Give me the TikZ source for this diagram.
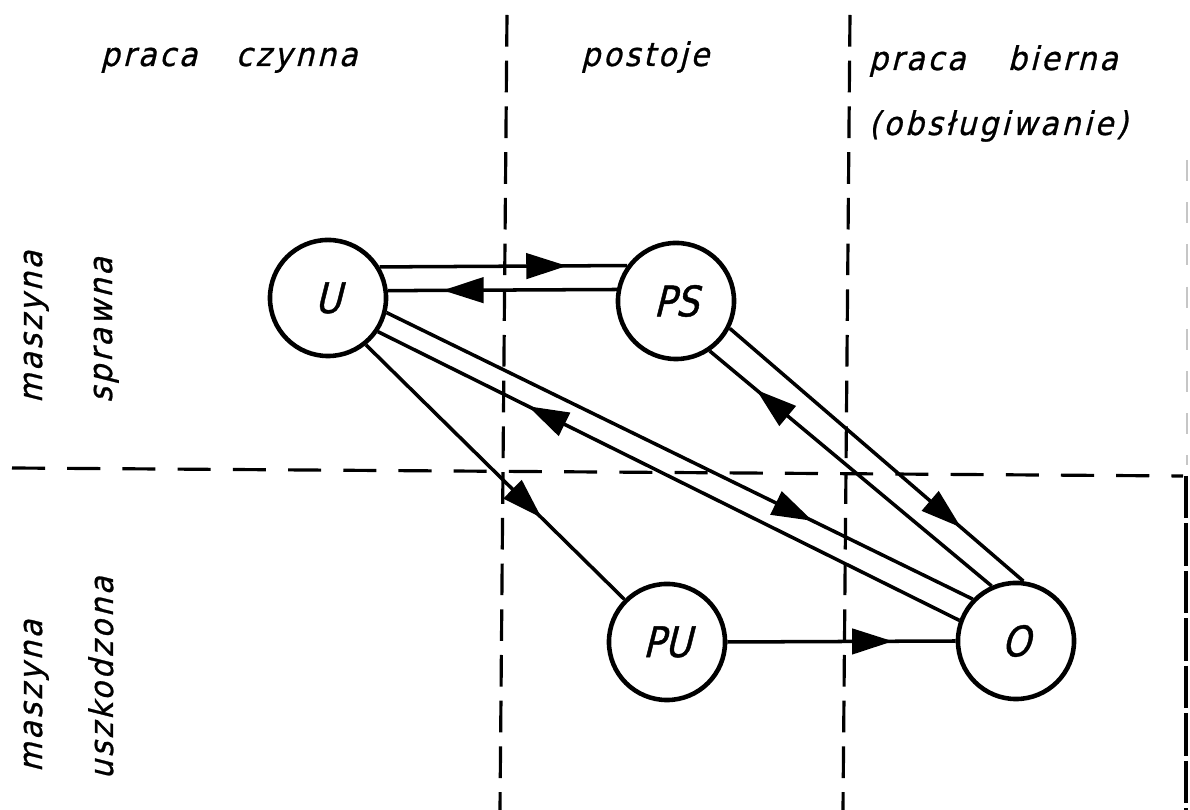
\documentclass[tikz,border=0pt]{standalone}
\usepackage{fontspec}
\setmainfont{DejaVu Sans}[FakeStretch=0.92,FakeSlant=0.25,LetterSpace=9,FakeBold=0.8]
\newfontfamily\stfam{DejaVu Sans}[FakeStretch=0.86,FakeSlant=0.25,FakeBold=1]
\usetikzlibrary{arrows.meta,decorations.markings}
\newcommand{\lblfnt}{\fontsize{9.3pt}{11pt}\selectfont}
\newcommand{\stfnt}{\stfam\fontsize{12pt}{14pt}\selectfont}
\tikzset{
  tri/.tip={Triangle[length=11.6pt,width=7.2pt]},
  st/.style={circle, draw, line width=1.3pt, minimum size=1.16cm, inner sep=0pt, font=\stfnt},
  con/.style={line width=1pt},
  marr/.style={postaction={decorate,decoration={markings,mark=at position #1 with {\arrow{tri}}}}},
  vgrid/.style={line width=0.9pt, dash pattern=on 9pt off 4pt},
  hgrid/.style={line width=0.9pt, dash pattern=on 9.4pt off 6.3pt},
  lab/.style={font=\lblfnt, inner sep=0pt}
}
\begin{document}
\begin{tikzpicture}[x=0.01cm,y=-0.01cm]
\fill[white] (0,0) rectangle (1190,810);
\useasboundingbox (0,0) rectangle (1190,810);
% dashed division lines
\draw[vgrid] (507,15) -- (500,810);
\draw[vgrid] (850,15) -- (843,810);
\draw[hgrid] (12,468) -- (1183,476);
\draw[line width=0.9pt, dash pattern=on 12pt off 1.5pt] (1186,476) -- (1186,810);
\draw[gray!45, line width=0.7pt, dash pattern=on 6pt off 6pt] (1187,160) -- (1187,465);
% states
\node[st] (U) at (328,298) {U};
\node[st] (PS) at (676,301) {PS};
\node[st] (PU) at (667,642) {PU};
\node[st] (O) at (1016,641) {O};
% transitions
\draw[con, marr=0.757] (U.31) -- (PS.144);
\draw[con, marr=0.76] (PS.169) -- (U.7);
\draw[con, marr=0.727] (U.-14) -- (O.136);
\draw[con, marr=0.742] (O.160) -- (U.-34);
\draw[con, marr=0.68] (U.-51) -- (PU.135);
\draw[con, marr=0.79] (PS.-27) -- (O.83);
\draw[con, marr=0.837] (O.114) -- (PS.-56);
\draw[con, marr=0.725] (PU.0) -- (O.180);
% labels
\node[lab, anchor=base east] (t1) at (358,66) {praca\hspace{11pt}czynna};
\node[lab, anchor=base] (t2) at (645,66) {postoje};
\node[lab, anchor=base west] (t3) at (868,70) {praca\hspace{12pt}bierna};
\node[lab, anchor=base west] (t4) at (868,135) {(obsługiwanie)};
\node[lab, rotate=90, anchor=base] (l1) at (42,327) {maszyna};
\node[lab, rotate=90, anchor=base] (l2) at (112,330) {sprawna};
\node[lab, rotate=90, anchor=base] (l3) at (42,696) {maszyna};
\node[lab, rotate=90, anchor=base] (l4) at (113,678) {uszkodzona};
\end{tikzpicture}
\end{document}
